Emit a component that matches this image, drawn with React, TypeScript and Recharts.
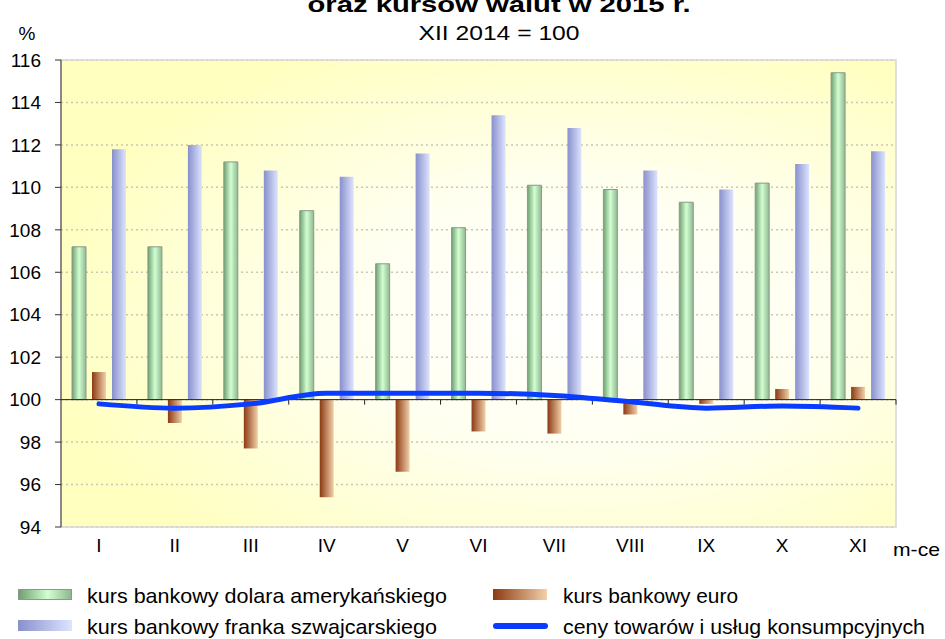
import React from 'react';
import { ComposedChart, Bar, Line, XAxis, YAxis, CartesianGrid, ReferenceLine, ReferenceArea } from 'recharts';

const months = ['I', 'II', 'III', 'IV', 'V', 'VI', 'VII', 'VIII', 'IX', 'X', 'XI'];
const usdRate = [107.2, 107.2, 111.2, 108.9, 106.4, 108.1, 110.1, 109.9, 109.3, 110.2, 115.4];
const eurRate = [101.3, 98.9, 97.7, 95.4, 96.6, 98.5, 98.4, 99.3, 99.8, 100.5, 100.6];
const chfRate = [111.8, 112.0, 110.8, 110.5, 111.6, 113.4, 112.8, 110.8, 109.9, 111.1, 111.7];
const cpi = [99.8, 99.6, 99.8, 100.3, 100.3, 100.3, 100.2, 99.9, 99.6, 99.7, 99.6];
const baseValue = 100;
const yTicks = [94, 96, 98, 100, 102, 104, 106, 108, 110, 112, 114, 116];

const seriesNames = {
  usd: 'kurs bankowy dolara amerykańskiego',
  eur: 'kurs bankowy euro',
  chf: 'kurs bankowy franka szwajcarskiego',
  cpi: 'ceny towarów i usług konsumpcyjnych',
};

const span = (v: number) => [Math.min(baseValue, v), Math.max(baseValue, v)];

const data = months.map((m, i) => ({
  month: m,
  usd: span(usdRate[i]),
  eur: span(eurRate[i]),
  chf: span(chfRate[i]),
  cpi: cpi[i],
}));

const FONT = '"Liberation Sans", Arial, sans-serif';

const BaseLineShape = (props: any) => {
  const { x1, y1, x2, y2 } = props;
  const n = months.length;
  const ticks = [];
  for (let k = 1; k <= n; k++) {
    const x = x1 + ((x2 - x1) * k) / n;
    ticks.push(<line key={k} x1={x} x2={x} y1={y1} y2={y1 + 5} stroke="#222" strokeWidth={1} />);
  }
  return (
    <g>
      <line x1={x1} y1={y1} x2={x2} y2={y2} stroke="#222" strokeWidth={1} />
      {ticks}
    </g>
  );
};

const legendItems = [
  { key: 'usd', ix: 18, tx: 87, y: 603, w: 360 },
  { key: 'eur', ix: 493, tx: 563, y: 603, w: 175 },
  { key: 'chf', ix: 18, tx: 87, y: 634, w: 350 },
  { key: 'cpi', ix: 493, tx: 563, y: 634, w: 362 },
];

const iconStyle = (kind: string): React.CSSProperties => {
  if (kind === 'usd')
    return { background: 'linear-gradient(90deg,#6f9f72,#d2ffd2 55%,#8fb890)', border: '1px solid #8a9a8a', height: 9, width: 52 };
  if (kind === 'eur') return { background: 'linear-gradient(90deg,#8b3a12,#f3d0aa)', height: 11, width: 54 };
  if (kind === 'chf') return { background: 'linear-gradient(90deg,#8890cc,#dde4ff)', height: 11, width: 54 };
  return { background: '#0a3cff', height: 6, borderRadius: 3, width: 55, marginTop: 3 };
};

export default function App() {
  return (
    <div style={{ position: 'absolute', left: 0, top: 0, width: 945, height: 639, background: '#fff', overflow: 'hidden' }}>
      <ComposedChart
        width={945}
        height={639}
        data={data}
        margin={{ top: 60, right: 49, bottom: 0, left: 0 }}
        barSize={14}
        barGap={6}
      >
        <defs>
          <radialGradient id="bgGrad" cx="62%" cy="55%" r="65%">
            <stop offset="0%" stopColor="#ffffff" />
            <stop offset="45%" stopColor="#fffff0" />
            <stop offset="100%" stopColor="#ffffc0" />
          </radialGradient>
          <linearGradient id="gUsd" x1="0" y1="0" x2="1" y2="0">
            <stop offset="0%" stopColor="#6f9f72" />
            <stop offset="50%" stopColor="#d2ffd2" />
            <stop offset="100%" stopColor="#8fb890" />
          </linearGradient>
          <linearGradient id="gEur" x1="0" y1="0" x2="1" y2="0">
            <stop offset="0%" stopColor="#8b3a12" />
            <stop offset="100%" stopColor="#f3d0aa" />
          </linearGradient>
          <linearGradient id="gChf" x1="0" y1="0" x2="1" y2="0">
            <stop offset="0%" stopColor="#8890cc" />
            <stop offset="100%" stopColor="#dde4ff" />
          </linearGradient>
        </defs>
        <CartesianGrid
          vertical={false}
          fill="url(#bgGrad)"
          stroke="#c9c8b4"
          strokeDasharray="2 3"
          strokeWidth={1.5}
        />
        <ReferenceArea y1={94} y2={116} fill="none" stroke="#d6d6d6" strokeWidth={1.5} ifOverflow="visible" />
        <XAxis
          dataKey="month"
          height={112}
          axisLine={false}
          tickLine={false}
          tickSize={0}
          tickMargin={12}
          interval={0}
          tick={{ fill: '#000', fontSize: 19, fontFamily: FONT }}
        />
        <YAxis
          width={61}
          domain={[94, 116]}
          ticks={yTicks}
          interval={0}
          allowDataOverflow
          axisLine={{ stroke: '#333', strokeWidth: 1 }}
          tickLine={{ stroke: '#333' }}
          tickSize={6}
          tickMargin={14}
          tick={{ fill: '#000', fontSize: 19, fontFamily: FONT }}
        />
        <Bar dataKey="usd" name={seriesNames.usd} fill="url(#gUsd)" stroke="#8a9a8a" strokeWidth={1} isAnimationActive={false} />
        <Bar dataKey="eur" name={seriesNames.eur} fill="url(#gEur)" isAnimationActive={false} />
        <Bar dataKey="chf" name={seriesNames.chf} fill="url(#gChf)" isAnimationActive={false} />
        <ReferenceLine y={baseValue} shape={BaseLineShape} />
        <Line
          dataKey="cpi"
          name={seriesNames.cpi}
          type="monotone"
          stroke="#0a3cff"
          strokeWidth={5}
          strokeLinecap="round"
          dot={false}
          isAnimationActive={false}
        />
      </ComposedChart>

      <svg width={945} height={639} style={{ position: 'absolute', left: 0, top: 0, pointerEvents: 'none' }}>
        <text x={499} y={12} textAnchor="middle" fontFamily={FONT} fontWeight="bold" fontSize={22} fill="#000" textLength={383} lengthAdjust="spacingAndGlyphs">
          oraz kursów walut w 2015 r.
        </text>
        <text x={499} y={40} textAnchor="middle" fontFamily={FONT} fontSize={21} fill="#000" textLength={161} lengthAdjust="spacingAndGlyphs">
          XII 2014 = 100
        </text>
        <text x={27} y={40} textAnchor="middle" fontFamily={FONT} fontSize={19} fill="#000">
          %
        </text>
        <text x={893} y={556} textAnchor="start" fontFamily={FONT} fontSize={19} fill="#000" textLength={47} lengthAdjust="spacingAndGlyphs">
          m-ce
        </text>
        {legendItems.map((it) => (
          <text key={it.key} x={it.tx} y={it.y} fontFamily={FONT} fontSize={21} fill="#000" textLength={it.w} lengthAdjust="spacingAndGlyphs">
            {seriesNames[it.key as keyof typeof seriesNames]}
          </text>
        ))}
      </svg>
      {legendItems.map((it) => (
        <div
          key={it.key}
          style={{
            position: 'absolute',
            left: it.ix,
            top: it.y - 14,
            ...iconStyle(it.key),
          }}
        />
      ))}
    </div>
  );
}
